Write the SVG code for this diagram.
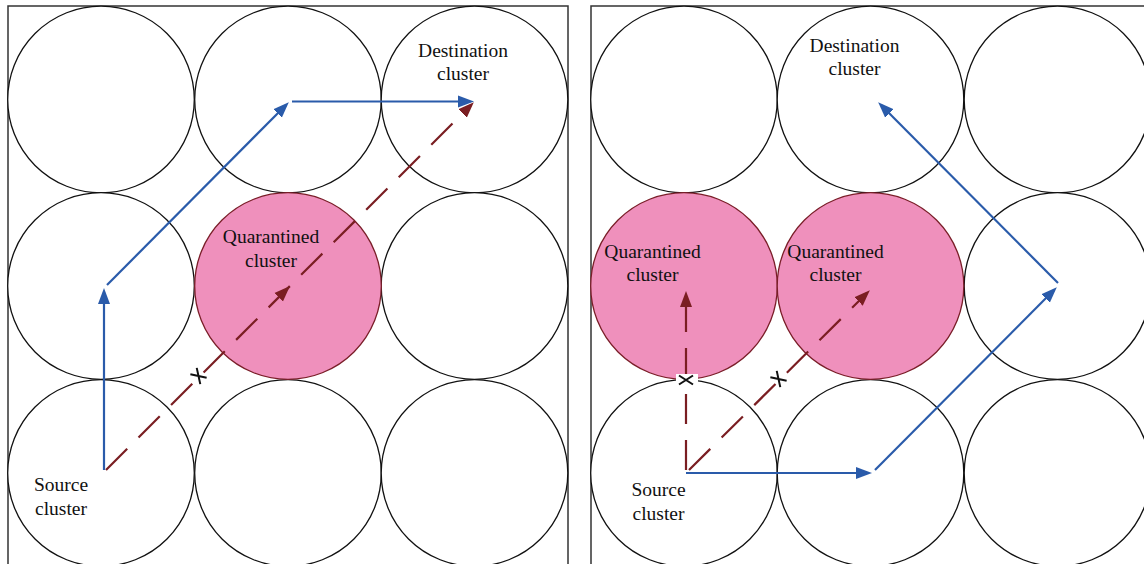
<svg xmlns="http://www.w3.org/2000/svg" width="1144" height="564" viewBox="0 0 1144 564">
  <style>
    .frame { fill: none; stroke: #333; stroke-width: 1.5; }
    .cell { fill: #fff; stroke: #111; stroke-width: 1.3; }
    .quar { fill: #EF90BC; stroke: #7A1E28; stroke-width: 1.3; }
    .lbl { font-family: "Liberation Serif", "Times New Roman", serif; font-size: 19.5px; fill: #111; text-anchor: middle; }
    .blue { fill: none; stroke: #2A5BAA; stroke-width: 2.2; }
    .red { fill: none; stroke: #7A1E22; stroke-width: 2.2; stroke-dasharray: 30 16; }
    .cross { stroke: #111; stroke-width: 2; fill: none; }
  </style>
  <defs>
    <marker id="arrowBlue" markerUnits="userSpaceOnUse" markerWidth="17" markerHeight="13" viewBox="0 0 17 13" refX="12" refY="6.5" orient="auto">
      <path d="M0,0.5 L16,6.5 L0,12.5 z" fill="#2A5BAA"/>
    </marker>
    <marker id="arrowRed" markerUnits="userSpaceOnUse" markerWidth="17" markerHeight="13" viewBox="0 0 17 13" refX="12" refY="6.5" orient="auto">
      <path d="M0,0.5 L16,6.5 L0,12.5 z" fill="#7A1E22"/>
    </marker>
    <marker id="arrowRedMid" markerUnits="userSpaceOnUse" markerWidth="17" markerHeight="13" viewBox="0 0 17 13" refX="16" refY="6.5" orient="auto">
      <path d="M0,0.5 L16,6.5 L0,12.5 z" fill="#7A1E22"/>
    </marker>
    <!-- blocked-link cross, drawn upright and rotated along each link -->
    <path id="xmark" class="cross" d="M-4.5,-7 L4.5,7 M-4.5,7 L4.5,-7"/>
  </defs>

  <!-- left panel: frame and 3x3 cluster grid -->
  <g id="left-frame">
    <rect class="frame" x="8" y="6" width="560" height="600"/>
  </g>
  <g id="left-cells">
    <circle class="cell" cx="101" cy="99.5" r="93.3"/>
    <circle class="cell" cx="288" cy="99.5" r="93.3"/>
    <circle class="cell" cx="474.5" cy="99.5" r="93.3"/>
    <circle class="cell" cx="101" cy="286" r="93.3"/>
    <circle class="cell" cx="474.5" cy="286" r="93.3"/>
    <circle class="cell" cx="101" cy="473" r="93.3"/>
    <circle class="cell" cx="288" cy="473" r="93.3"/>
    <circle class="cell" cx="474.5" cy="473" r="93.3"/>
  </g>
  <g id="left-quarantined">
    <circle class="quar" cx="288" cy="286" r="93.3"/>
    <text class="lbl" x="271" y="243">Quarantined</text>
    <text class="lbl" x="271" y="266.5">cluster</text>
  </g>
  <g id="left-destination">
    <text class="lbl" x="463" y="56.5">Destination</text>
    <text class="lbl" x="463" y="80">cluster</text>
  </g>
  <g id="left-source">
    <text class="lbl" x="61" y="491">Source</text>
    <text class="lbl" x="61" y="514.5">cluster</text>
  </g>

  <!-- right panel: frame and 3x3 cluster grid -->
  <g id="right-frame">
    <rect class="frame" x="591" y="6" width="600" height="600"/>
  </g>
  <g id="right-cells">
    <circle class="cell" cx="684" cy="99.5" r="93.3"/>
    <circle class="cell" cx="870.5" cy="99.5" r="93.3"/>
    <circle class="cell" cx="1057.5" cy="99.5" r="93.3"/>
    <circle class="cell" cx="1057.5" cy="286" r="93.3"/>
    <circle class="cell" cx="684" cy="473" r="93.3"/>
    <circle class="cell" cx="870.5" cy="473" r="93.3"/>
    <circle class="cell" cx="1057.5" cy="473" r="93.3"/>
  </g>
  <g id="right-quarantined-a">
    <circle class="quar" cx="684" cy="286" r="93.3"/>
    <text class="lbl" x="652.5" y="257.5">Quarantined</text>
    <text class="lbl" x="652.5" y="281">cluster</text>
  </g>
  <g id="right-quarantined-b">
    <circle class="quar" cx="870.5" cy="286" r="93.3"/>
    <text class="lbl" x="835.5" y="257.5">Quarantined</text>
    <text class="lbl" x="835.5" y="281">cluster</text>
  </g>
  <g id="right-destination">
    <text class="lbl" x="854.5" y="51.5">Destination</text>
    <text class="lbl" x="854.5" y="75">cluster</text>
  </g>
  <g id="right-source">
    <text class="lbl" x="658.5" y="496">Source</text>
    <text class="lbl" x="658.5" y="519.5">cluster</text>
  </g>

  <!-- routes: blue = detour path, dashed red = blocked direct path -->
  <g id="connectors">
    <!-- left panel -->
    <path class="red" d="M106,470 L290,286 L471,105" marker-mid="url(#arrowRedMid)" marker-end="url(#arrowRed)"/>
    <path class="blue" d="M104,470 L104,292" marker-end="url(#arrowBlue)"/>
    <path class="blue" d="M107,285 L286,105" marker-end="url(#arrowBlue)"/>
    <path class="blue" d="M292,101.5 L470,101.5" marker-end="url(#arrowBlue)"/>

    <!-- right panel -->
    <path class="red" d="M686,470 L686,295" marker-end="url(#arrowRed)"/>
    <path class="red" d="M689,470 L867,293" marker-end="url(#arrowRed)"/>
    <path class="blue" d="M686,473 L868,473" marker-end="url(#arrowBlue)"/>
    <path class="blue" d="M875,470 L1054,290" marker-end="url(#arrowBlue)"/>
    <path class="blue" d="M1058,283 L881,105" marker-end="url(#arrowBlue)"/>
  </g>

  <!-- blocked markers -->
  <g id="block-left">
    <use href="#xmark" transform="translate(198.5,376) rotate(-45)"/>
  </g>
  <g id="block-right-a">
    <rect x="676" y="374" width="22" height="13" fill="#fff"/>
    <use href="#xmark" transform="translate(686,380) rotate(-90)"/>
  </g>
  <g id="block-right-b">
    <use href="#xmark" transform="translate(778.5,379) rotate(-45)"/>
  </g>
</svg>
